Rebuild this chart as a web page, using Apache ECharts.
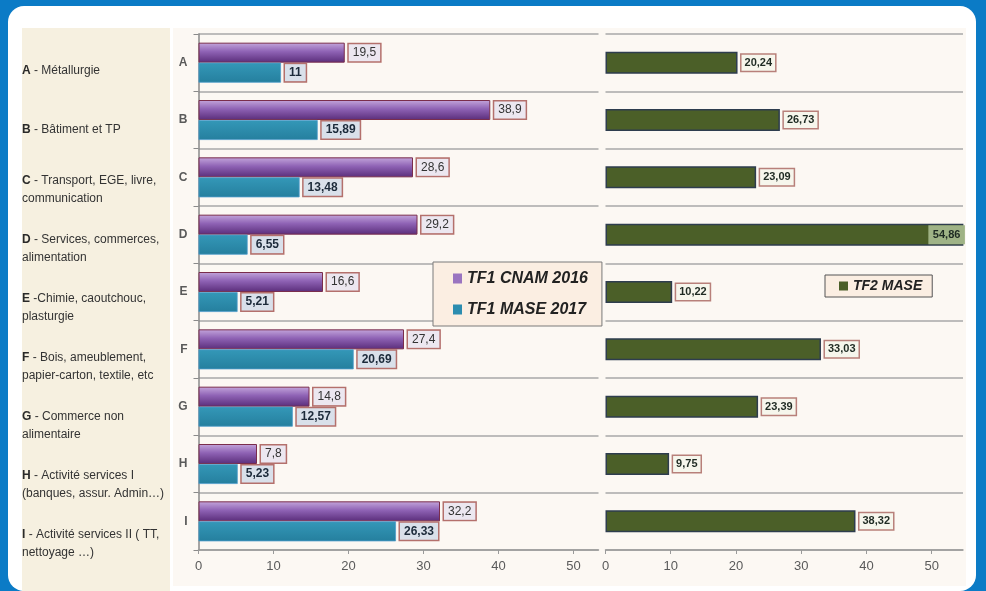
<!DOCTYPE html>
<html><head><meta charset="utf-8">
<script src="https://cdn.jsdelivr.net/npm/echarts@6/dist/echarts.min.js"></script>
<style>html,body{margin:0;padding:0;background:#0b7bc6}#c{width:986px;height:591px}</style>
</head><body><div id="c"></div>
<script>
const categories = ['A','B','C','D','E','F','G','H','I'];
const sectorLabels = [
  'A - Métallurgie',
  'B - Bâtiment et TP',
  'C - Transport, EGE, livre,\ncommunication',
  'D - Services, commerces,\nalimentation',
  'E -Chimie, caoutchouc,\nplasturgie',
  'F - Bois, ameublement,\npapier-carton, textile, etc',
  'G - Commerce non\nalimentaire',
  'H - Activité services I\n(banques, assur. Admin…)',
  'I - Activité services II ( TT,\nnettoyage …)'
];
const tf1Cnam2016 = [19.5, 38.9, 28.6, 29.2, 16.6, 27.4, 14.8, 7.8, 32.2];
const tf1Mase2017 = [11, 15.89, 13.48, 6.55, 5.21, 20.69, 12.57, 5.23, 26.33];
const tf2Mase = [20.24, 26.73, 23.09, 54.86, 10.22, 33.03, 23.39, 9.75, 38.32];
const xTicks = [0, 10, 20, 30, 40, 50];

const FONT = 'Liberation Sans';
const fmt = v => String(v).replace('.', ',');
const chart = echarts.init(document.getElementById('c'), null, {renderer: 'canvas'});

const axisGray = '#9a9a9a';
function valueAxis(idx, max) {
  return {
    type: 'value', gridIndex: idx, min: 0, max: max, interval: 10,
    axisLine: {show: true, lineStyle: {color: axisGray, width: 1.5}},
    axisTick: {show: true, length: 4, lineStyle: {color: axisGray}, customValues: xTicks},
    axisLabel: {color: '#5a5a5a', fontSize: 13, fontFamily: FONT, margin: 10, customValues: xTicks},
    splitLine: {show: false}
  };
}

const purple = new echarts.graphic.LinearGradient(0, 0, 0, 1, [
  {offset: 0, color: '#c4a6dc'}, {offset: 0.45, color: '#8e62b4'}, {offset: 1, color: '#5a2d7a'}
]);
const teal = new echarts.graphic.LinearGradient(0, 0, 0, 1, [
  {offset: 0, color: '#3498b8'}, {offset: 1, color: '#257f9e'}
]);

const option = {
  backgroundColor: '#0b7bc6',
  animation: false,
  graphic: [
    {type: 'rect', z: -10, shape: {x: 8, y: 6, width: 968, height: 585, r: 16}, style: {fill: '#ffffff'}},
    {type: 'rect', z: -9, shape: {x: 22, y: 28, width: 148, height: 563}, style: {fill: '#f6f0e0'}},
    {type: 'rect', z: -9, shape: {x: 173, y: 28, width: 793, height: 558}, style: {fill: '#fcf8f3'}}
  ],
  grid: [
    {left: 198.5, top: 34, width: 400, height: 516},
    {left: 605.5, top: 34, width: 357.5, height: 516},
    {left: 22, top: 41.5, width: 100, height: 532}
  ],
  xAxis: [
    valueAxis(0, 53.33),
    valueAxis(1, 54.8),
    {type: 'value', gridIndex: 2, show: false}
  ],
  yAxis: [
    {type: 'category', gridIndex: 0, data: categories, inverse: true,
     axisLine: {show: true, lineStyle: {color: '#8a8a8a', width: 1.5}},
     axisTick: {show: true, length: 5, lineStyle: {color: '#8a8a8a'}},
     axisLabel: {color: '#5a5a5a', fontSize: 12, fontWeight: 'bold', fontFamily: FONT, margin: 11},
     splitLine: {show: true, lineStyle: {color: '#a8a8a8', width: 1.5}}},
    {type: 'category', gridIndex: 1, data: categories, inverse: true,
     axisLine: {show: false}, axisTick: {show: false}, axisLabel: {show: false},
     splitLine: {show: true, lineStyle: {color: '#a8a8a8', width: 1.5}}},
    {type: 'category', gridIndex: 2, data: sectorLabels, inverse: true,
     axisLine: {show: false}, axisTick: {show: false}, splitLine: {show: false},
     axisLabel: {
       margin: 0, align: 'left', fontFamily: FONT,
       formatter: function (s) {
         const letter = s.charAt(0);
         const parts = s.slice(1).split('\n');
         let out = '{b|' + letter + '}{n|' + parts[0] + '}';
         for (let i = 1; i < parts.length; i++) out += '\n{n|' + parts[i] + '}';
         return out;
       },
       rich: {
         b: {fontWeight: 'bold', fontSize: 12, color: '#2a2a2a', fontFamily: FONT, lineHeight: 18},
         n: {fontSize: 12, color: '#333333', fontFamily: FONT, lineHeight: 18}
       }
     }}
  ],
  legend: [
    {data: [{name: 'TF1 CNAM 2016', itemStyle: {color: '#9a74c0', borderWidth: 0}},
            {name: 'TF1 MASE 2017', itemStyle: {color: '#2c8db0', borderWidth: 0}}],
     orient: 'vertical', left: 433, top: 262, padding: [7, 14, 7, 20], itemGap: 12,
     itemWidth: 9, itemHeight: 10, icon: 'rect',
     backgroundColor: '#fbeee2', borderColor: '#7a7a7a', borderWidth: 1,
     textStyle: {fontSize: 16, fontWeight: 'bold', fontStyle: 'italic', color: '#222', fontFamily: FONT, lineHeight: 19}},
    {data: [{name: 'TF2 MASE', itemStyle: {color: '#4b5f28', borderWidth: 0}}],
     left: 825, top: 275, padding: [3, 10, 3, 14], itemWidth: 9, itemHeight: 9, icon: 'rect',
     backgroundColor: '#fbeee2', borderColor: '#555', borderWidth: 1,
     textStyle: {fontSize: 14, fontWeight: 'bold', fontStyle: 'italic', color: '#222', fontFamily: FONT, lineHeight: 16}}
  ],
  series: [
    {name: 'TF1 CNAM 2016', type: 'bar', xAxisIndex: 0, yAxisIndex: 0, data: tf1Cnam2016,
     barWidth: 20, barGap: '0%',
     itemStyle: {color: purple, borderColor: '#7a2d4c', borderWidth: 1},
     label: {show: true, position: 'right', distance: 4, formatter: p => fmt(p.value),
       fontSize: 12, color: '#333', fontFamily: FONT,
       backgroundColor: '#ece7f0', borderColor: '#b4706c', borderWidth: 1.5, padding: [3, 4, 2, 4]}},
    {name: 'TF1 MASE 2017', type: 'bar', xAxisIndex: 0, yAxisIndex: 0, data: tf1Mase2017,
     barWidth: 20, barGap: '0%',
     itemStyle: {color: teal, borderColor: '#4e9ccc', borderWidth: 0.8},
     label: {show: true, position: 'right', distance: 4, formatter: p => fmt(p.value),
       fontSize: 12, fontWeight: 'bold', color: '#1c2a3a', fontFamily: FONT,
       backgroundColor: '#d9e0ea', borderColor: '#b4706c', borderWidth: 1.5, padding: [3, 4, 2, 4]}},
    {name: 'TF2 MASE', type: 'bar', xAxisIndex: 1, yAxisIndex: 1,
     data: tf2Mase.map(function (v) {
       if (v > 54.8) return {value: v, label: {position: 'insideRight', distance: 0, backgroundColor: '#9fb386', borderColor: '#9fb386'}};
       return v;
     }),
     barWidth: 22,
     itemStyle: {color: '#4b5f28', borderColor: '#2e3d4e', borderWidth: 1.5},
     label: {show: true, position: 'right', distance: 4, formatter: p => fmt(p.value),
       fontSize: 11, fontWeight: 'bold', color: '#1e2a22', fontFamily: FONT,
       backgroundColor: '#f6f6ec', borderColor: '#b8807a', borderWidth: 1.5, padding: [3, 3, 2, 3]}}
  ]
};
chart.setOption(option);
</script></body></html>
